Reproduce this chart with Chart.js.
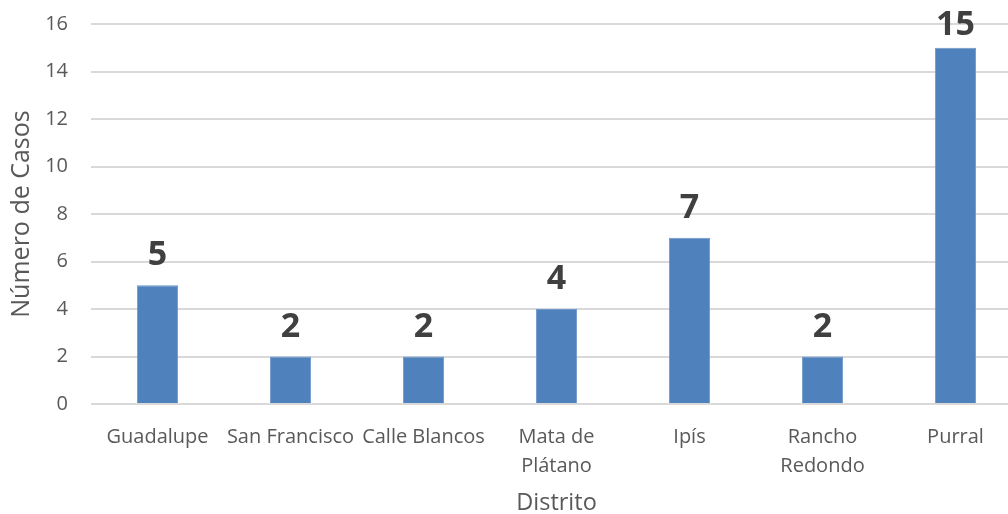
<!DOCTYPE html>
<html>
<head>
<meta charset="utf-8">
<script src="https://cdn.jsdelivr.net/npm/chart.js@4"></script>
<style>
  html, body { margin: 0; padding: 0; background: #fff; overflow: hidden; }
  #wrap { width: 1022px; height: 525px; margin-top: -11px; }
</style>
</head>
<body>
<div id="wrap"><canvas id="casosChart"></canvas></div>
<script>
const distritos = ['Guadalupe', 'San Francisco', 'Calle Blancos', ['Mata de', 'Plátano'], 'Ipís', ['Rancho', 'Redondo'], 'Purral'];
const casos = [5, 2, 2, 4, 7, 2, 15];
const yTicks = [0, 2, 4, 6, 8, 10, 12, 14, 16];

const fontFamily = "'Open Sans', 'Noto Sans', sans-serif";
const textColor = '#595959';

// writes each value in bold above its bar
const valueLabels = {
    id: 'valueLabels',
    afterDatasetsDraw(chart) {
        const ctx = chart.ctx;
        const meta = chart.getDatasetMeta(0);
        ctx.save();
        ctx.font = "bold 34px " + fontFamily;
        ctx.fillStyle = '#404040';
        ctx.textAlign = 'center';
        ctx.textBaseline = 'alphabetic';
        meta.data.forEach((bar, i) => {
            // keep the tallest label from running off the top
            const y = Math.max(bar.y - 20, 46);
            ctx.fillText(String(chart.data.datasets[0].data[i]), bar.x, y);
        });
        ctx.restore();
    }
};

const ctx = document.getElementById('casosChart').getContext('2d');
new Chart(ctx, {
    type: 'bar',
    data: {
        labels: distritos,
        datasets: [{
            label: 'Número de Casos',
            data: casos,
            backgroundColor: '#4F81BD',
            borderColor: '#6E97CB',
            borderWidth: 1,
            barPercentage: 0.31,
            categoryPercentage: 1.0
        }]
    },
    options: {
        responsive: true,
        maintainAspectRatio: false,
        animation: false,
        layout: { padding: 0 },
        plugins: {
            legend: { display: false },
            tooltip: { enabled: false }
        },
        scales: {
            x: {
                afterFit(axis) { axis.height = 110; },
                grid: { display: false, drawTicks: false },
                border: { display: false },
                ticks: {
                    color: textColor,
                    font: { family: fontFamily, size: 20, lineHeight: 1.45 },
                    padding: 19,
                    maxRotation: 0,
                    autoSkip: false
                },
                title: {
                    display: true,
                    text: 'Distrito',
                    color: textColor,
                    font: { family: fontFamily, size: 23.5 },
                    padding: { top: 0, bottom: -3 }
                }
            },
            y: {
                min: 0,
                max: 16,
                afterBuildTicks(axis) {
                    axis.ticks = yTicks.map(v => ({ value: v }));
                },
                afterFit(axis) { axis.width = 91; },
                grid: { color: '#D9D9D9', lineWidth: 2, drawTicks: false },
                border: { display: false },
                ticks: {
                    color: textColor,
                    font: { family: fontFamily, size: 20 },
                    padding: 23
                },
                title: {
                    display: true,
                    text: 'Número de Casos',
                    color: textColor,
                    font: { family: fontFamily, size: 25 },
                    padding: { top: 7, bottom: 0 }
                }
            }
        }
    },
    plugins: [valueLabels]
});
</script>
</body>
</html>
